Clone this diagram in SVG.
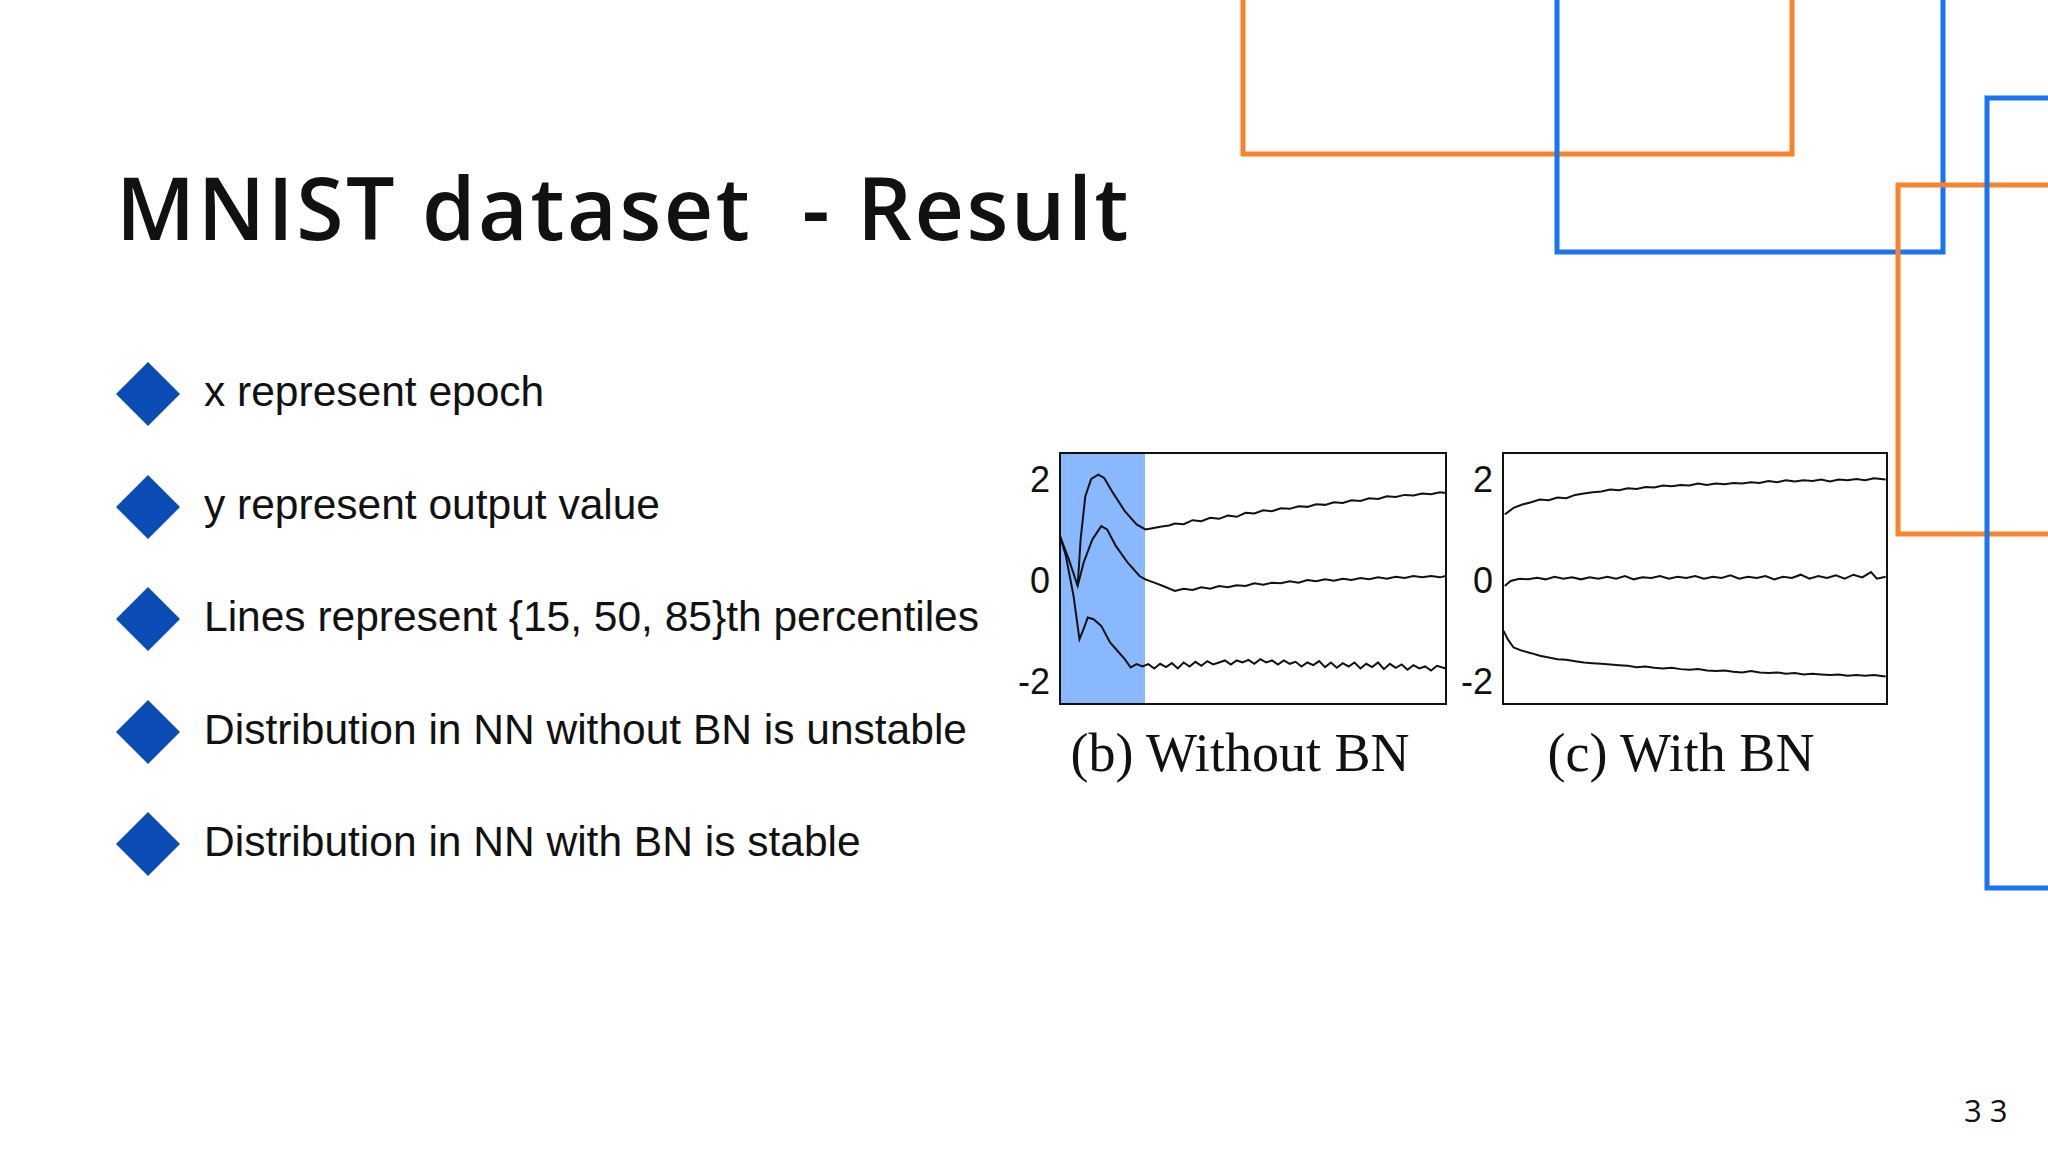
<svg xmlns="http://www.w3.org/2000/svg" width="2048" height="1152" viewBox="0 0 2048 1152">
<style>
.or{fill:none;stroke:#f7832f;stroke-width:5}
.bl{fill:none;stroke:#1a73f0;stroke-width:5}
.dm{fill:#0a4bb4}
.bt{font-family:"Liberation Sans",Arial,sans-serif;font-size:42.5px;fill:#111}
.ax{font-family:"Liberation Sans",Arial,sans-serif;font-size:36px;fill:#111;text-anchor:end}
.cap{font-family:"Liberation Serif","Times New Roman",serif;font-size:54px;fill:#111;text-anchor:middle}
.ln{fill:none;stroke:#111;stroke-width:2;vector-effect:non-scaling-stroke}
.box{fill:none;stroke:#111;stroke-width:2}
</style>
<rect width="2048" height="1152" fill="#fff"/>
<g id="deco">
<rect class="or" x="1243" y="-10" width="549" height="164"/>
<rect class="bl" x="1557" y="-10" width="386" height="262"/>
<rect class="or" x="1898" y="185" width="200" height="349"/>
<rect class="bl" x="1987" y="98" width="120" height="790"/>
</g>
<text id="title" x="116" y="240" font-family="'Open Sans',sans-serif" font-weight="600" font-size="86" letter-spacing="2.5" fill="#111" xml:space="preserve">MNIST dataset  - Result</text>
<g id="bullets">
<polygon class="dm" points="148,362 180,394 148,426 116,394"/>
<text class="bt" x="204" y="406">x represent epoch</text>
<polygon class="dm" points="148,475 180,507 148,539 116,507"/>
<text class="bt" x="204" y="519">y represent output value</text>
<polygon class="dm" points="148,587 180,619 148,651 116,619"/>
<text class="bt" x="204" y="631">Lines represent {15, 50, 85}th percentiles</text>
<polygon class="dm" points="148,700 180,732 148,764 116,732"/>
<text class="bt" x="204" y="744">Distribution in NN without BN is unstable</text>
<polygon class="dm" points="148,812 180,844 148,876 116,844"/>
<text class="bt" x="204" y="856">Distribution in NN with BN is stable</text>
</g>
<g id="plotb">
<rect x="1060" y="453" width="85" height="251" fill="#8ab8ff"/>
<g transform="translate(1060,453) scale(0.589,0.3325) translate(-105,-70)">
<polyline class="ln" points="135,470 140,330 148,200 158,148 170,135 180,145 195,190 215,245 235,285 250,300 262,296 275,292 290,288 300,282 315,284 330,272 345,275 360,265 375,268 390,258 405,262 420,250 435,252 450,242 465,245 480,236 495,238 510,230 525,232 540,224 555,226 570,218 585,220 600,212 615,214 630,206 645,208 660,200 675,202 690,196 705,198 720,192 735,194 750,188 760,190"/>
<polyline class="ln" points="105,320 120,390 135,470 145,400 160,330 175,290 185,300 200,350 220,400 240,440 250,450 265,460 280,470 300,485 315,478 330,482 345,474 360,478 375,470 390,474 405,468 420,470 435,462 450,466 465,460 480,462 495,456 510,460 525,452 540,456 555,450 570,454 585,448 600,452 615,446 630,450 645,444 660,448 675,442 690,446 705,440 720,444 735,440 750,444 760,440"/>
<polyline class="ln" points="105,320 115,380 128,500 138,630 145,600 152,565 162,570 175,590 190,640 205,670 215,690 225,715 235,705 245,712 255,705 265,718 275,704 285,714 295,702 305,718 315,700 325,712 335,698 345,710 355,696 365,706 375,700 385,694 395,706 405,694 415,700 425,692 435,704 445,690 455,700 465,694 475,706 485,694 495,704 505,698 515,712 525,700 535,708 545,696 555,714 565,700 575,716 585,702 595,712 605,700 615,718 625,704 635,714 645,700 655,720 665,704 675,716 685,706 695,722 705,708 715,718 725,712 735,724 745,710 760,718"/>
</g>
<rect class="box" x="1060" y="453" width="386" height="251"/>
<text class="ax" x="1050" y="492">2</text>
<text class="ax" x="1050" y="593">0</text>
<text class="ax" x="1050" y="694">-2</text>
<text class="cap" x="1240" y="771">(b) Without BN</text>
</g>
<g id="plotc">
<g transform="translate(1503,453) scale(0.586,0.3325) translate(-857,-70)">
<polyline class="ln" points="860,255 875,235 890,225 905,218 920,210 935,212 950,204 965,206 980,196 995,192 1010,188 1025,186 1040,180 1055,182 1070,176 1085,178 1100,172 1115,174 1130,168 1145,170 1160,166 1175,168 1190,162 1205,166 1220,162 1235,164 1250,160 1265,162 1280,158 1295,160 1310,154 1325,158 1340,152 1355,156 1370,152 1385,154 1400,150 1415,156 1430,150 1445,152 1460,148 1475,152 1490,146 1510,150"/>
<polyline class="ln" points="860,470 870,455 885,448 900,450 915,445 930,450 945,442 960,448 975,444 990,450 1005,444 1020,448 1035,442 1050,448 1065,440 1080,450 1095,444 1110,446 1125,440 1140,448 1155,442 1170,446 1185,440 1200,448 1215,442 1230,446 1245,438 1260,448 1275,442 1290,446 1305,440 1320,450 1335,442 1350,446 1365,436 1380,448 1395,440 1410,446 1425,438 1440,448 1455,436 1470,444 1485,428 1495,448 1510,442"/>
<polyline class="ln" points="858,605 865,630 875,655 890,665 905,672 920,680 935,685 950,690 965,692 980,696 995,700 1010,702 1025,704 1040,706 1055,708 1070,710 1085,714 1100,712 1115,716 1130,718 1145,716 1160,720 1175,722 1190,720 1205,724 1220,726 1235,724 1250,728 1265,730 1280,726 1295,730 1310,732 1325,730 1340,734 1355,732 1370,736 1385,734 1400,736 1415,738 1430,736 1445,740 1460,738 1475,740 1490,738 1510,742"/>
</g>
<rect class="box" x="1503" y="453" width="384" height="251"/>
<text class="ax" x="1493" y="492">2</text>
<text class="ax" x="1493" y="593">0</text>
<text class="ax" x="1493" y="694">-2</text>
<text class="cap" x="1681" y="771">(c) With BN</text>
</g>
<text id="page" x="1964" y="1122" font-family="'Open Sans',sans-serif" font-size="31" fill="#111">3 3</text>
</svg>
